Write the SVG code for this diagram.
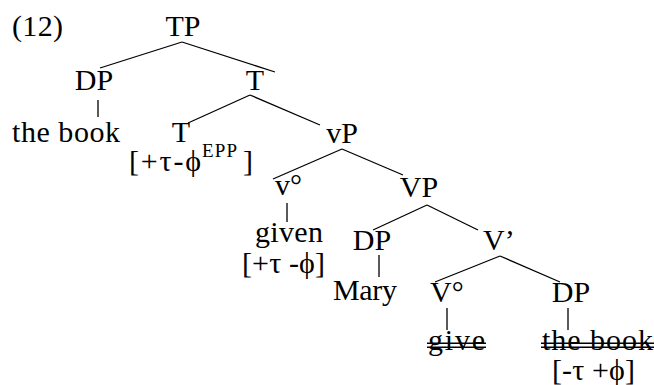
<svg xmlns="http://www.w3.org/2000/svg" width="654" height="385" viewBox="0 0 654 385">
<style>
text{font-family:"Liberation Serif","Times New Roman",serif;font-size:30px;fill:#000}
.sup{font-size:19px}
.e line{stroke:#000;stroke-width:1.3}
.s{stroke:#000;stroke-width:1.5}
</style>
<rect width="654" height="385" fill="#fff"/>
<text x="12" y="36" textLength="51">(12)</text>
<g id="TP"><text x="183" y="36" text-anchor="middle">TP</text></g>
<g id="DP1"><text x="94" y="90" text-anchor="middle">DP</text></g>
<g id="thebook1"><text x="12" y="142" textLength="108">the book</text></g>
<g id="Tbar"><text x="255" y="90" text-anchor="middle">T</text></g>
<g id="T"><text x="181" y="142" text-anchor="middle">T</text>
<text x="129" y="171" textLength="72">[+τ-ϕ</text><text class="sup" x="202" y="157" textLength="35">EPP</text><text x="243" y="171">]</text></g>
<g id="vP"><text x="342" y="143" text-anchor="middle">vP</text></g>
<g id="v"><text x="275" y="195">v°</text></g>
<g id="given"><text x="255" y="242" textLength="68">given</text><text x="242" y="273" textLength="83">[+τ -ϕ]</text></g>
<g id="VP"><text x="419" y="197" text-anchor="middle">VP</text></g>
<g id="DP2"><text x="372" y="250" text-anchor="middle">DP</text></g>
<g id="Mary"><text x="333" y="300" textLength="64">Mary</text></g>
<g id="Vbar"><text x="483" y="250">V’</text></g>
<g id="V"><text x="430" y="302">V°</text></g>
<g id="give"><text x="428" y="350" textLength="57">give</text></g>
<g id="DP3"><text x="571" y="302" text-anchor="middle">DP</text></g>
<g id="thebook2"><text x="542" y="350" textLength="111">the book</text><text x="552" y="380" textLength="83">[-τ +ϕ]</text></g>
<g id="strikes">
<line class="s" x1="427" y1="343.3" x2="486" y2="343.3"/>
<line class="s" x1="427" y1="347.3" x2="486" y2="347.3"/>
<line class="s" x1="541" y1="343.3" x2="654" y2="343.3"/>
<line class="s" x1="541" y1="347.3" x2="654" y2="347.3"/>
</g>
<g id="edges" class="e">
<line x1="182" y1="42" x2="100" y2="68"/>
<line x1="182" y1="42" x2="275" y2="72"/>
<line x1="98" y1="100" x2="98" y2="117"/>
<line x1="250" y1="95" x2="188" y2="123"/>
<line x1="250" y1="95" x2="320" y2="125"/>
<line x1="342" y1="149" x2="273" y2="179"/>
<line x1="342" y1="149" x2="403" y2="175"/>
<line x1="287" y1="203" x2="287" y2="222"/>
<line x1="427" y1="205" x2="373" y2="230"/>
<line x1="427" y1="205" x2="478" y2="230"/>
<line x1="379" y1="255" x2="379" y2="277"/>
<line x1="500" y1="256" x2="435" y2="282"/>
<line x1="500" y1="256" x2="560" y2="282"/>
<line x1="447" y1="308" x2="447" y2="330"/>
<line x1="568" y1="308" x2="568" y2="330"/>
</g>
</svg>
